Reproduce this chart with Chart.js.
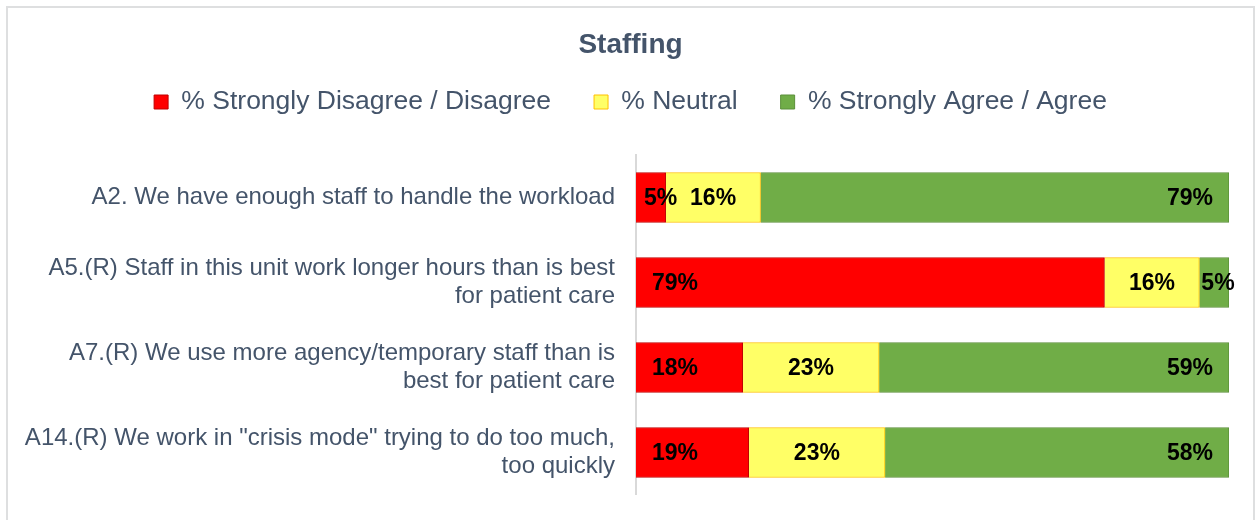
<!DOCTYPE html>
<html>
<head>
<meta charset="utf-8">
<script src="https://cdn.jsdelivr.net/npm/chart.js@4"></script>
<style>
  html, body { margin: 0; padding: 0; background: #fff; overflow: hidden; }
  #frame {
    position: absolute; left: 6px; top: 6px;
    width: 1245px; height: 522px;
    border: 2px solid #DEDFE0; border-bottom: none;
  }
  #wrap { position: relative; width: 1245px; height: 522px; }
</style>
</head>
<body>
<div id="frame"><div id="wrap"><canvas id="staffing"></canvas></div></div>
<script>
const categories = [
  'A2. We have enough staff to handle the workload',
  ['A5.(R) Staff in this unit work longer hours than is best', 'for patient care'],
  ['A7.(R) We use more agency/temporary staff than is', 'best for patient care'],
  ['A14.(R) We work in "crisis mode" trying to do too much,', 'too quickly']
];
const disagree = [5, 79, 18, 19];
const neutral = [16, 16, 23, 23];
const agree = [79, 5, 59, 58];

const textColor = '#44546A';
const fontFamily = '"Liberation Sans", Arial, sans-serif';

// value labels drawn on the bars (red at start, yellow centred, green at end)
const barLabels = {
  id: 'barLabels',
  afterDatasetsDraw(chart) {
    const ctx = chart.ctx;
    ctx.save();
    ctx.font = 'bold 23px ' + fontFamily;
    ctx.fillStyle = '#000';
    ctx.textBaseline = 'middle';
    chart.data.datasets.forEach((ds, di) => {
      chart.getDatasetMeta(di).data.forEach((bar, i) => {
        const {x, base, y} = bar.getProps(['x', 'base', 'y'], true);
        const txt = ds.data[i] + '%';
        const w = ctx.measureText(txt).width;
        const left = Math.min(x, base), right = Math.max(x, base);
        const seg = right - left;
        let tx;
        if (di === 0) {
          ctx.textAlign = 'left';
          tx = seg >= w + 32 ? left + 16 : left + 8;
        } else if (di === 1) {
          ctx.textAlign = 'center';
          tx = (left + right) / 2;
        } else if (seg >= w + 32) {
          ctx.textAlign = 'right';
          tx = right - 16;
        } else {
          ctx.textAlign = 'left';
          tx = left + 2;
        }
        ctx.fillText(txt, tx, y + 1);
      });
    });
    ctx.restore();
  }
};

new Chart(document.getElementById('staffing'), {
  type: 'bar',
  data: {
    labels: categories,
    datasets: [
      {
        label: '% Strongly Disagree / Disagree',
        data: disagree,
        backgroundColor: '#FF0000',
        borderColor: '#C00000',
        borderWidth: 1
      },
      {
        label: '% Neutral',
        data: neutral,
        backgroundColor: '#FFFF66',
        borderColor: '#FFC000',
        borderWidth: 1
      },
      {
        label: '% Strongly Agree / Agree',
        data: agree,
        backgroundColor: '#70AD47',
        borderColor: '#5B8F3A',
        borderWidth: 1
      }
    ]
  },
  options: {
    indexAxis: 'y',
    responsive: true,
    maintainAspectRatio: false,
    animation: false,
    layout: { padding: { left: 0, right: 0, top: 0, bottom: 34 } },
    datasets: { bar: { barThickness: 50 } },
    plugins: {
      tooltip: { enabled: false },
      title: {
        display: true,
        text: 'Staffing',
        color: textColor,
        font: { family: fontFamily, size: 28, weight: 'bold' },
        padding: { top: 20, bottom: -15.85 }
      },
      legend: {
        position: 'top',
        labels: {
          color: textColor,
          font: { family: fontFamily, size: 26.5 },
          boxWidth: 14,
          boxHeight: 14,
          padding: 43
        }
      }
    },
    scales: {
      x: {
        type: 'linear',
        position: 'top',
        stacked: true,
        min: 0,
        max: 100,
        ticks: { display: false },
        grid: { display: false, drawTicks: false },
        border: { display: false },
        afterFit(scale) { scale.height = 29.75; }
      },
      y: {
        stacked: true,
        grid: { display: false, drawTicks: false },
        border: { display: true, color: '#D9D9D9', width: 2 },
        ticks: {
          color: textColor,
          font: { family: fontFamily, size: 24, lineHeight: 1.17 },
          padding: 21
        },
        afterFit(scale) { scale.width = 628; }
      },
      // empty right-hand spacer so the plot ends where the reference does
      yRight: {
        type: 'category',
        position: 'right',
        grid: { display: false, drawTicks: false },
        border: { display: false },
        ticks: { display: false },
        afterFit(scale) { scale.width = 24; }
      }
    }
  },
  plugins: [barLabels]
});
</script>
</body>
</html>
